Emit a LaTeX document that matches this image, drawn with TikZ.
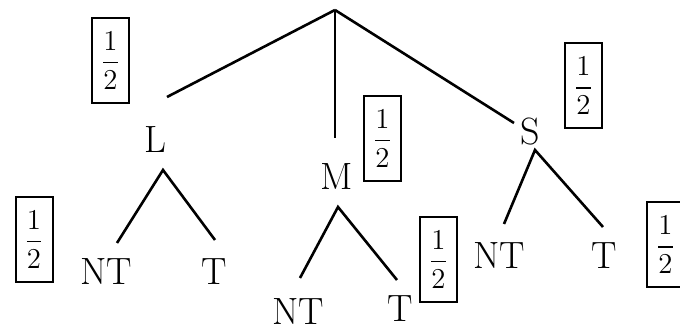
\documentclass[tikz,border=0pt]{standalone}
\usepackage{amsmath}
\usepackage{tikz}
\usetikzlibrary{positioning}
\tikzset{
  lab/.style={font=\fontsize{19}{22}\selectfont,inner sep=0pt},
  prob/.style={draw,line width=1pt,minimum width=18.5pt,minimum height=42.5pt,
               inner sep=0pt,font=\fontsize{14.5}{17}\selectfont}, % boxed 1/2
  branch/.style={line width=1.3pt},
}
\newcommand{\half}{$\dfrac{1}{2}$}

\begin{document}
\begin{tikzpicture}[x=0.5pt,y=-0.5pt]
  \useasboundingbox (0,0) rectangle (680,330);

  % first level
  \coordinate (root) at (335,10);
  \node[lab] (L) at (155,140) {L};
  \node[lab] (M) at (337,177) {M};
  \node[lab] (S) at (530,132) {S};
  \coordinate (L-up) at (167,97);
  \coordinate (M-up) at (335,138);
  \coordinate (S-up) at (514,123);
  \draw[branch] (root) -- (L-up);
  \draw[branch] (root) -- (M-up);
  \draw[branch] (root) -- (S-up);

  % leaves
  \node[lab] (L-NT) at (106,272) {NT};
  \node[lab] (L-T)  at (214,272) {T};
  \node[lab] (M-NT) at (298,312) {NT};
  \node[lab] (M-T)  at (400,309) {T};
  \node[lab] (S-NT) at (499,256) {NT};
  \node[lab] (S-T)  at (604,256) {T};

  % second level branches
  \coordinate (L-top) at (163,170);
  \coordinate (L-l) at (117,243);  \coordinate (L-r) at (215,240);
  \coordinate (M-top) at (338,207);
  \coordinate (M-l) at (300,278);  \coordinate (M-r) at (397,280);
  \coordinate (S-top) at (535,150);
  \coordinate (S-l) at (504,224);  \coordinate (S-r) at (603,227);
  \draw[branch] (L-l) -- (L-top) -- (L-r);
  \draw[branch] (M-l) -- (M-top) -- (M-r);
  \draw[branch] (S-l) -- (S-top) -- (S-r);

  % probabilities
  \node[prob] (pL)  at (110.5,60.5) {\half};
  \node[prob] (pM)  at (382.5,138.5) {\half};
  \node[prob] (pS)  at (583.5,86) {\half};
  \node[prob] (pLT) at (34,239.5) {\half};
  \node[prob] (pMT) at (438.5,259.5) {\half};
  \node[prob] (pST) at (665.5,245) {\half};
\end{tikzpicture}
\end{document}
